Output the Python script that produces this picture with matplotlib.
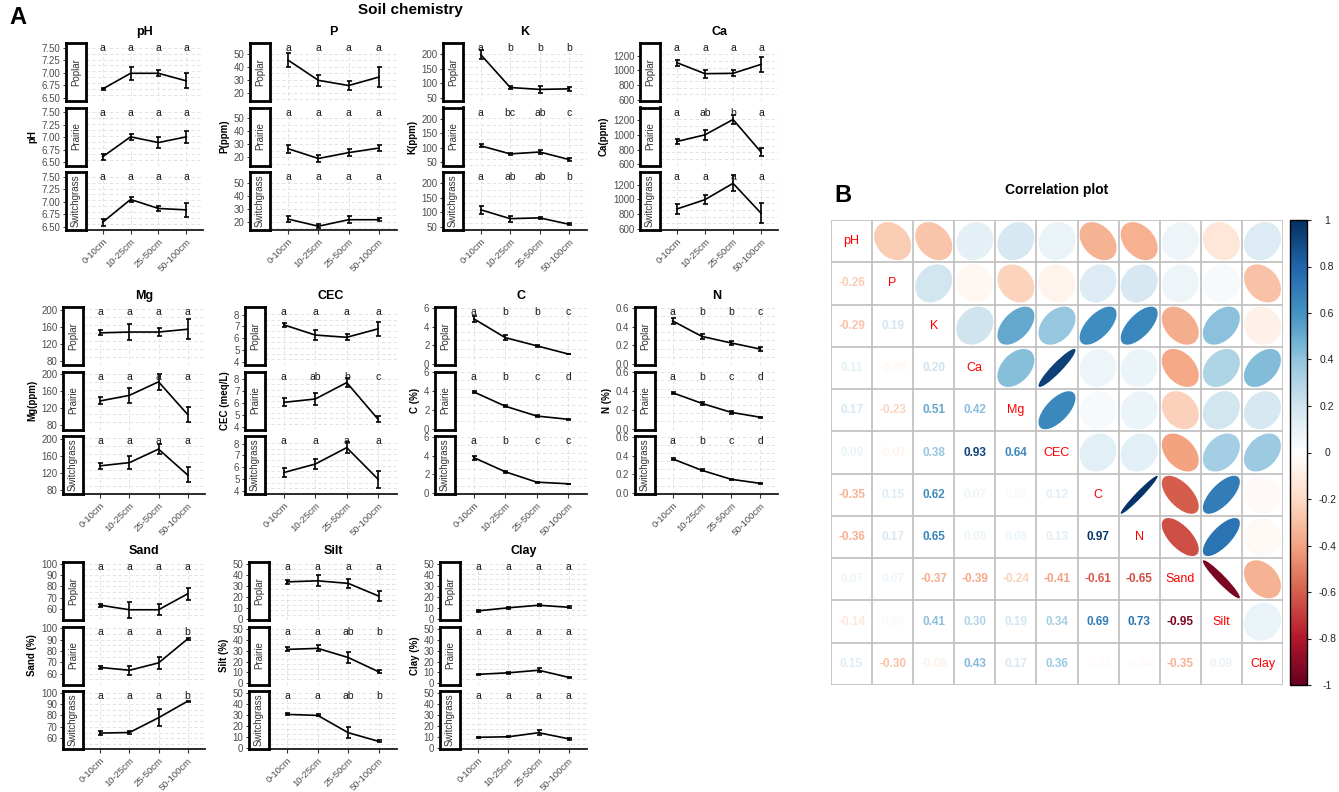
import numpy as np
import matplotlib
matplotlib.use('Agg')
import matplotlib.pyplot as plt
import matplotlib.transforms as mtransforms
from matplotlib.colors import LinearSegmentedColormap, Normalize
from matplotlib.patches import Ellipse
from matplotlib.cm import ScalarMappable

plt.rcParams['font.family'] = ['Liberation Sans', 'DejaVu Sans']

# ---- data: soil chemistry by depth, rows = Poplar, Prairie, Switchgrass ----
depths = ['0-10cm', '10-25cm', '25-50cm', '50-100cm']
systems = ['Poplar', 'Prairie', 'Switchgrass']

ph_mean = [[6.63, 6.96, 6.96, 6.80], [6.56, 6.98, 6.86, 6.98], [6.54, 7.02, 6.83, 6.80]]
ph_err = [[0.02, 0.14, 0.06, 0.16], [0.06, 0.07, 0.11, 0.12], [0.07, 0.06, 0.05, 0.14]]
ph_let = [['a', 'a', 'a', 'a'], ['a', 'a', 'a', 'a'], ['a', 'a', 'a', 'a']]

p_mean = [[45, 29.5, 25.5, 32], [26.5, 19, 23.5, 27], [22, 16.5, 21.5, 21.5]]
p_err = [[5.5, 4, 3.5, 7.5], [3, 2.5, 2.5, 2.5], [2.5, 1.5, 2.5, 1]]
p_let = [['a', 'a', 'a', 'a'], ['a', 'a', 'a', 'a'], ['a', 'a', 'a', 'a']]

k_mean = [[197, 75, 68, 70], [98, 68, 75, 47], [100, 67, 70, 46]]
k_err = [[18, 7, 13, 7], [6, 5, 6, 4], [15, 11, 5, 4]]
k_let = [['a', 'b', 'b', 'b'], ['a', 'bc', 'ab', 'c'], ['a', 'ab', 'ab', 'b']]

ca_mean = [[1075, 910, 915, 1050], [860, 960, 1190, 700], [815, 955, 1200, 750]]
ca_err = [[45, 60, 45, 115], [40, 80, 70, 60], [70, 70, 120, 150]]
ca_let = [['a', 'a', 'a', 'a'], ['a', 'ab', 'b', 'a'], ['a', 'a', 'a', 'a']]

mg_mean = [[141, 143, 143, 150], [132, 146, 180, 98], [131, 139, 173, 108]]
mg_err = [[6, 21, 11, 25], [9, 19, 20, 19], [8, 16, 13, 19]]
mg_let = [['a', 'a', 'a', 'a'], ['a', 'a', 'a', 'a'], ['a', 'a', 'a', 'a']]

cec_mean = [[7.05, 6.15, 5.95, 6.7], [5.9, 6.2, 7.65, 4.4], [5.4, 6.15, 7.6, 4.8]]
cec_err = [[0.2, 0.45, 0.25, 0.6], [0.35, 0.55, 0.4, 0.25], [0.4, 0.45, 0.5, 0.75]]
cec_let = [['a', 'a', 'a', 'a'], ['a', 'ab', 'b', 'c'], ['a', 'a', 'a', 'a']]

c_mean = [[4.65, 2.35, 1.35, 0.35], [3.6, 1.85, 0.65, 0.25], [3.45, 1.72, 0.45, 0.25]]
c_err = [[0.4, 0.35, 0.15, 0.05], [0.15, 0.1, 0.1, 0.03], [0.25, 0.12, 0.08, 0.03]]
c_let = [['a', 'b', 'b', 'c'], ['a', 'b', 'c', 'd'], ['a', 'b', 'c', 'c']]

n_mean = [[0.44, 0.25, 0.17, 0.095], [0.35, 0.22, 0.11, 0.05], [0.33, 0.19, 0.08, 0.03]]
n_err = [[0.035, 0.035, 0.02, 0.02], [0.015, 0.015, 0.015, 0.008], [0.015, 0.01, 0.007, 0.005]]
n_let = [['a', 'b', 'b', 'c'], ['a', 'b', 'c', 'd'], ['a', 'b', 'c', 'd']]

sand_mean = [[63.5, 59.5, 59.5, 73.5], [65.5, 63, 69.5, 90.5], [64.5, 65, 78, 92.5]]
sand_err = [[1.5, 7, 5, 5.5], [1, 4, 5, 1], [1.5, 1, 7.5, 0.5]]
sand_let = [['a', 'a', 'a', 'a'], ['a', 'a', 'a', 'b'], ['a', 'a', 'a', 'b']]

silt_mean = [[32.5, 33.5, 31, 18.5], [29.5, 30.5, 21.5, 7.5], [29, 28, 11, 2.5]]
silt_err = [[2, 5.5, 4.5, 5], [2, 3, 5, 1.5], [1, 1, 5.5, 1]]
silt_let = [['a', 'a', 'a', 'a'], ['a', 'a', 'ab', 'b'], ['a', 'a', 'ab', 'b']]

clay_mean = [[4, 7, 9.5, 7.5], [5, 6.5, 9, 2], [6.5, 7, 11, 5]]
clay_err = [[0.8, 1, 1.2, 0.8], [0.5, 1, 2, 0.5], [0.5, 0.5, 2.5, 1]]
clay_let = [['a', 'a', 'a', 'a'], ['a', 'a', 'a', 'a'], ['a', 'a', 'a', 'a']]

# correlation matrix (lower triangle, row by row)
corr_vars = ['pH', 'P', 'K', 'Ca', 'Mg', 'CEC', 'C', 'N', 'Sand', 'Silt', 'Clay']
corr_lower = [
    [],
    [-0.26],
    [-0.29, 0.19],
    [0.11, -0.05, 0.20],
    [0.17, -0.23, 0.51, 0.42],
    [0.09, -0.07, 0.38, 0.93, 0.64],
    [-0.35, 0.15, 0.62, 0.07, 0.03, 0.12],
    [-0.36, 0.17, 0.65, 0.08, 0.08, 0.13, 0.97],
    [0.07, 0.07, -0.37, -0.39, -0.24, -0.41, -0.61, -0.65],
    [-0.14, 0.03, 0.41, 0.30, 0.19, 0.34, 0.69, 0.73, -0.95],
    [0.15, -0.30, -0.08, 0.43, 0.17, 0.36, -0.03, -0.04, -0.35, 0.09],
]

# panel settings: title, y label, ylim, yticks, minor step, tick format
panels = {
    'pH': ('pH', 'pH', (6.43, 7.60), [6.5, 6.75, 7.0, 7.25, 7.5], 0.125, '{:.2f}'),
    'P': ('P', 'P(ppm)', (13.6, 58.2), [20, 30, 40, 50], 5, '{:.0f}'),
    'K': ('K', 'K(ppm)', (38, 240), [50, 100, 150, 200], 25, '{:.0f}'),
    'Ca': ('Ca', 'Ca(ppm)', (586, 1370), [600, 800, 1000, 1200], 100, '{:.0f}'),
    'Mg': ('Mg', 'Mg(ppm)', (70.5, 206), [80, 120, 160, 200], 20, '{:.0f}'),
    'CEC': ('CEC', 'CEC (meq/L)', (3.77, 8.63), [4, 5, 6, 7, 8], 0.5, '{:.0f}'),
    'C': ('C', 'C (%)', (-0.1, 6.1), [0, 2, 4, 6], 1, '{:.0f}'),
    'N': ('N', 'N (%)', (-0.01, 0.61), [0.0, 0.2, 0.4, 0.6], 0.1, '{:.1f}'),
    'Sand': ('Sand', 'Sand (%)', (50.5, 101.5), [60, 70, 80, 90, 100], 5, '{:.0f}'),
    'Silt': ('Silt', 'Silt (%)', (-1, 52), [0, 10, 20, 30, 40, 50], 5, '{:.0f}'),
    'Clay': ('Clay', 'Clay (%)', (-1, 52), [0, 10, 20, 30, 40, 50], 5, '{:.0f}'),
}
values = {
    'pH': (ph_mean, ph_err, ph_let), 'P': (p_mean, p_err, p_let),
    'K': (k_mean, k_err, k_let), 'Ca': (ca_mean, ca_err, ca_let),
    'Mg': (mg_mean, mg_err, mg_let), 'CEC': (cec_mean, cec_err, cec_let),
    'C': (c_mean, c_err, c_let), 'N': (n_mean, n_err, n_let),
    'Sand': (sand_mean, sand_err, sand_let), 'Silt': (silt_mean, silt_err, silt_let),
    'Clay': (clay_mean, clay_err, clay_let),
}
# layout in pixels: row index, panel left, panel right
layout = {
    'pH': (0, 86, 203), 'P': (0, 270, 397), 'K': (0, 463, 587), 'Ca': (0, 660, 778),
    'Mg': (1, 83, 205), 'CEC': (1, 265, 397), 'C': (1, 455, 587), 'N': (1, 655, 778),
    'Sand': (2, 83, 205), 'Silt': (2, 269, 397), 'Clay': (2, 460, 587),
}
row_tops = [43, 307, 562]
panel_h = 58
panel_gap = 6.5
strip_w = 20

W, H = 1339, 792
fig = plt.figure(figsize=(W / 100, H / 100), dpi=100)


def px_box(x0, y0, x1, y1):
    return [x0 / W, 1 - y1 / H, (x1 - x0) / W, (y1 - y0) / H]


tick_col = '#4D4D4D'
grid_col = '#DEDEDE'
x = np.arange(len(depths))

for key, (row, x0, x1) in layout.items():
    title, ylab, ylim, yticks, minor, fmt = panels[key]
    means, errs, lets = values[key]
    for i, system in enumerate(systems):
        top = row_tops[row] + i * (panel_h + panel_gap)
        bot = top + panel_h
        ax = fig.add_axes(px_box(x0, top, x1, bot))
        sax = fig.add_axes(px_box(x0 - strip_w, top, x0, bot))

        ax.set_xlim(-0.6, 3.6)
        ax.set_ylim(*ylim)
        ax.set_xticks(x)
        ax.set_yticks(yticks)
        ax.set_yticks(np.arange(yticks[0] - minor, yticks[-1] + minor, 2 * minor), minor=True)
        ax.grid(which='both', ls=(0, (4, 3)), color=grid_col, lw=0.6)
        ax.set_axisbelow(True)
        ax.tick_params(axis='y', which='both', left=False, labelleft=False)
        ax.tick_params(axis='x', which='minor', bottom=False)
        for sp in ['top', 'right', 'left']:
            ax.spines[sp].set_visible(False)

        ax.errorbar(x, means[i], yerr=errs[i], color='black', lw=1.2,
                    elinewidth=1.2, capsize=1.8, capthick=1.2)
        trans = mtransforms.blended_transform_factory(ax.transData, ax.transAxes)
        for xi, lt in zip(x, lets[i]):
            ax.text(xi, 0.91, lt, transform=trans, ha='center', va='center',
                    fontsize=7.5, color='#1A1A1A')

        if i == 2:
            ax.spines['bottom'].set_color('#1A1A1A')
            ax.spines['bottom'].set_linewidth(1.3)
            ax.tick_params(axis='x', length=3, color='#333333', width=0.8, pad=2)
            ax.set_xticklabels(depths, rotation=45, ha='right', rotation_mode='anchor',
                               fontsize=6.8, color=tick_col)
        else:
            ax.spines['bottom'].set_visible(False)
            ax.tick_params(axis='x', bottom=False, labelbottom=False)
        if i == 0:
            ax.set_title(title, fontweight='bold', fontsize=9, pad=6)

        # strip on the left, carrying the y axis labels
        sax.set_ylim(*ylim)
        sax.set_xticks([])
        sax.set_yticks(yticks)
        sax.set_yticklabels([fmt.format(v) for v in yticks], fontsize=7, color=tick_col)
        sax.tick_params(axis='y', length=2.5, width=0.7, color='#333333', pad=1.5)
        for sp in sax.spines.values():
            sp.set_linewidth(2)
            sp.set_color('black')
        sax.text(0.5, 0.5, system, rotation=90, transform=sax.transAxes,
                 ha='center', va='center', fontsize=7, color='#333333')
        if i == 1:
            sax.set_ylabel(ylab, fontweight='bold', fontsize=7, labelpad=3)

fig.text(18 / W, 1 - 18 / H, 'A', fontsize=17, fontweight='bold', ha='center', va='center')
fig.text(410 / W, 1 - 10 / H, 'Soil chemistry', fontsize=11, fontweight='bold',
         ha='center', va='center')

# ---- correlation plot ----
n = len(corr_vars)
corr = np.eye(n)
for r, vals in enumerate(corr_lower):
    for c, v in enumerate(vals):
        corr[r, c] = v
        corr[c, r] = v

cmap = LinearSegmentedColormap.from_list(
    'corrRdBu', ['#67001F', '#B2182B', '#D6604D', '#F4A582', '#FDDBC7', '#FFFFFF',
                 '#D1E5F0', '#92C5DE', '#4393C3', '#2166AC', '#053061'], N=200)
norm = Normalize(-1, 1)

cax = fig.add_axes(px_box(831, 220, 1283, 685))
cax.set_xlim(0, n)
cax.set_ylim(n, 0)
cax.set_xticks([])
cax.set_yticks([])
for sp in cax.spines.values():
    sp.set_visible(False)
for k in range(n + 1):
    cax.axhline(k, color='#BEBEBE', lw=1.2, zorder=1)
    cax.axvline(k, color='#BEBEBE', lw=1.2, zorder=1)

for r in range(n):
    for c in range(n):
        v = corr[r, c]
        if r == c:
            cax.text(c + 0.5, r + 0.5, corr_vars[r], ha='center', va='center',
                     fontsize=9, color='#FF0000')
        elif r > c:
            cax.text(c + 0.5, r + 0.5, '{:.2f}'.format(v), ha='center', va='center',
                     fontsize=8.5, fontweight='bold', color=cmap(norm(v)))
        else:
            cax.add_patch(Ellipse((c + 0.5, r + 0.5), width=0.9 * np.sqrt(1 + v),
                                  height=0.9 * np.sqrt(1 - v), angle=-45,
                                  facecolor=cmap(norm(v)), edgecolor='none', zorder=2))

bax = fig.add_axes(px_box(1290, 220, 1307, 685))
cb = fig.colorbar(ScalarMappable(norm=norm, cmap=cmap), cax=bax)
cb.set_ticks(np.linspace(-1, 1, 11))
cb.set_ticklabels(['-1', '-0.8', '-0.6', '-0.4', '-0.2', '0', '0.2', '0.4', '0.6', '0.8', '1'])
cb.ax.tick_params(labelsize=7.5, length=3, width=0.8, pad=11.5, colors='#222222')
for lbl in cb.ax.get_yticklabels():
    lbl.set_horizontalalignment('center')
cb.outline.set_linewidth(1)

fig.text(1057 / W, 1 - 190 / H, 'Correlation plot', fontsize=10, fontweight='bold',
         ha='center', va='center')
fig.text(843 / W, 1 - 196 / H, 'B', fontsize=17, fontweight='bold', ha='center', va='center')

fig.savefig('out.png', dpi=100)
